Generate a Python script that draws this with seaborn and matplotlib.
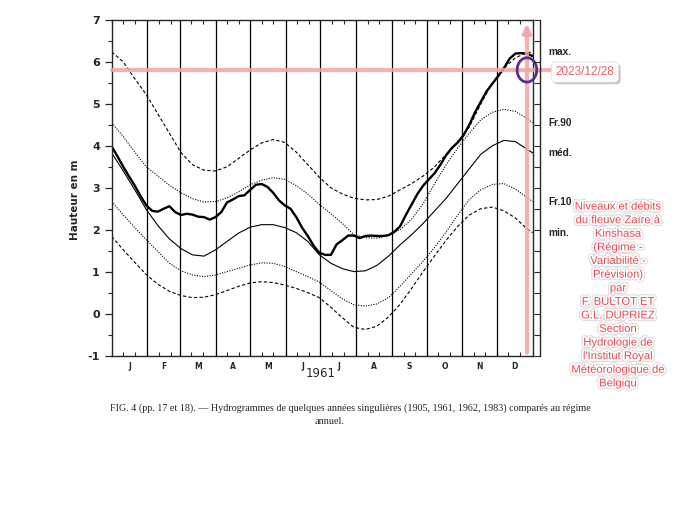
import numpy as np
import pandas as pd
import matplotlib
matplotlib.use('Agg')
import matplotlib.pyplot as plt
import matplotlib.patheffects as pe
from matplotlib.patches import Ellipse
import seaborn as sns

# envelope curves of the annual regime (day of year -> height in m)
days_env = [0, 10, 20, 30, 40, 50, 60, 70, 80, 90, 100, 110, 120, 130, 140, 150, 160, 170, 180,
            190, 200, 210, 220, 230, 240, 250, 260, 270, 280, 290, 300, 310, 320, 330, 340, 350, 360, 365]
lvl_max = [6.24, 6.0, 5.6, 5.22, 4.76, 4.3, 3.84, 3.55, 3.42, 3.40, 3.5, 3.7, 3.9, 4.07, 4.15, 4.08, 3.85, 3.55, 3.25,
           3.0, 2.85, 2.75, 2.71, 2.72, 2.8, 2.95, 3.1, 3.28, 3.5, 3.8, 4.1, 4.45, 5.0, 5.5, 5.85, 6.1, 6.22, 6.24]
lvl_fr90 = [4.55, 4.22, 3.85, 3.5, 3.28, 3.06, 2.88, 2.74, 2.66, 2.67, 2.76, 2.9, 3.07, 3.18, 3.24, 3.2, 3.05, 2.85, 2.6,
            2.38, 2.15, 1.88, 1.81, 1.8, 1.86, 2.0, 2.25, 2.62, 3.1, 3.55, 3.95, 4.3, 4.62, 4.8, 4.87, 4.82, 4.65, 4.55]
lvl_med = [3.83, 3.4, 2.95, 2.48, 2.1, 1.78, 1.55, 1.40, 1.37, 1.52, 1.72, 1.92, 2.06, 2.12, 2.12, 2.05, 1.93, 1.72, 1.4,
           1.2, 1.07, 1.0, 1.02, 1.15, 1.37, 1.64, 1.88, 2.15, 2.45, 2.75, 3.1, 3.45, 3.8, 4.0, 4.13, 4.1, 3.92, 3.83]
lvl_fr10 = [2.67, 2.35, 2.05, 1.76, 1.48, 1.2, 1.02, 0.92, 0.88, 0.92, 1.0, 1.08, 1.16, 1.21, 1.2, 1.12, 1.0, 0.88, 0.75,
            0.55, 0.35, 0.21, 0.18, 0.23, 0.38, 0.65, 0.95, 1.25, 1.58, 1.95, 2.35, 2.72, 2.95, 3.08, 3.1, 2.97, 2.77, 2.67]
lvl_min = [1.84, 1.52, 1.22, 0.93, 0.7, 0.53, 0.43, 0.38, 0.39, 0.45, 0.55, 0.65, 0.73, 0.76, 0.74, 0.68, 0.6, 0.5, 0.38,
           0.15, -0.1, -0.33, -0.38, -0.3, -0.08, 0.22, 0.6, 1.0, 1.38, 1.75, 2.08, 2.35, 2.5, 2.54, 2.45, 2.28, 2.02, 1.93]

# year 1961, every 5 days
days_1961 = list(range(0, 366, 5))
lvl_1961 = [3.98, 3.75, 3.5, 3.27, 3.05, 2.8, 2.58, 2.45, 2.43, 2.5, 2.56, 2.42, 2.35, 2.38, 2.36, 2.31, 2.3, 2.24,
            2.3, 2.42, 2.65, 2.72, 2.8, 2.82, 2.95, 3.07, 3.09, 3.02, 2.88, 2.7, 2.58, 2.5, 2.3, 2.05, 1.85, 1.62,
            1.45, 1.4, 1.4, 1.65, 1.75, 1.86, 1.86, 1.8, 1.85, 1.86, 1.85, 1.85, 1.87, 1.95, 2.08, 2.35, 2.6, 2.85,
            3.05, 3.2, 3.35, 3.55, 3.78, 3.95, 4.08, 4.25, 4.5, 4.8, 5.05, 5.3, 5.48, 5.66, 5.85, 6.08, 6.2, 6.21,
            6.2, 6.14]

month_starts = [0, 31, 59, 90, 120, 151, 181, 212, 243, 273, 304, 334, 365]
month_letters = ['J', 'F', 'M', 'A', 'M', 'J', 'J', 'A', 'S', 'O', 'N', 'D']
right_labels = ['max.', 'Fr.90', 'méd.', 'Fr.10', 'min.']

mark_day = 360
mark_level = 5.81
mark_date = '2023/12/28'
note = ("Niveaux et débits\ndu fleuve Zaïre à\nKinshasa\n(Régime -\nVariabilité -\nPrévision)\npar\n"
        "F. BULTOT ET\nG.L. DUPRIEZ\nSection\nHydrologie de\nl'Institut Royal\nMétéorologique de\nBelgiqu")
caption = ("FIG. 4 (pp. 17 et 18). — Hydrogrammes de quelques années singulières (1905, 1961, 1962, 1983) "
           "comparés au régime")

sns.set_style('ticks')
plt.rcParams['font.family'] = ['DejaVu Sans']
plt.rcParams['axes.unicode_minus'] = False

env = pd.DataFrame({'day': days_env, 'max.': lvl_max, 'Fr.90': lvl_fr90, 'méd.': lvl_med,
                    'Fr.10': lvl_fr10, 'min.': lvl_min})
year = pd.DataFrame({'day': days_1961, 'h': lvl_1961})

fig = plt.figure(figsize=(6.8, 5.13), dpi=100)
ax = fig.add_axes([0.1643, 0.307, 0.6191, 0.654])

styles = {'max.': (0, (3, 2)), 'Fr.90': (0, (1, 1.3)), 'méd.': '-', 'Fr.10': (0, (1, 1.3)), 'min.': (0, (3, 2))}
for name in right_labels:
    sns.lineplot(data=env, x='day', y=name, ax=ax, color='black', lw=0.8, linestyle=styles[name], estimator=None)
sns.lineplot(data=year, x='day', y='h', ax=ax, color='black', lw=1.7, estimator=None)

for m in month_starts[1:-1]:
    ax.axvline(m, color='black', lw=0.9)

ax.set_xlim(0, 365)
ax.set_ylim(-1, 7)
ax.set_xticks(month_starts)
ax.set_xticks([m + d for m in month_starts[:-1] for d in (10, 20)], minor=True)
ax.tick_params(axis='x', which='both', direction='in', top=True, bottom=True, labelbottom=False,
               length=3, width=0.8)
ax.set_yticks(range(-1, 8))
ax.set_yticks(np.arange(-0.5, 7, 1.0), minor=True)
ax.tick_params(axis='y', which='major', direction='out', length=5, width=0.9, labelsize=8)
ax.tick_params(axis='y', which='minor', direction='out', length=3, width=0.8)
for lab in ax.get_yticklabels():
    lab.set_fontweight('bold')
ax.set_xlabel('')
ax.set_ylabel('')
for s in ax.spines.values():
    s.set_linewidth(1.0)

# separate scale on the right
ax2 = ax.twinx()
ax2.set_ylim(-1, 7)
ax2.set_yticks(np.arange(-1, 7.01, 0.5))
ax2.tick_params(axis='y', direction='in', length=4, width=0.8, labelright=False)
for side in ['left', 'top', 'bottom']:
    ax2.spines[side].set_visible(False)
ax2.spines['right'].set_position(('outward', 5.5))
ax2.spines['right'].set_linewidth(1.0)

for name in right_labels:
    ax.annotate(name, xy=(1, env[name].iloc[-1]), xycoords=('axes fraction', 'data'),
                xytext=(11, 0), textcoords='offset points', va='center', fontsize=7.3,
                family='Liberation Sans', fontweight='bold')

for i, letter in enumerate(month_letters):
    ax.text((month_starts[i] + month_starts[i + 1]) / 2, -0.02, letter, transform=ax.get_xaxis_transform(),
            ha='center', va='top', fontsize=5.5, fontweight='bold')
ax.text(181.5, -0.035, '1961', transform=ax.get_xaxis_transform(), ha='center', va='top', fontsize=8.5)

fig.text(75 / 680, 1 - 200 / 513, 'Hauteur en m', rotation=90, ha='center', va='center',
         fontsize=7.5, fontweight='bold')

fig.text(110 / 680, 1 - 408 / 513, caption, family='Liberation Serif', fontsize=7.3, va='center')
fig.text(330 / 680, 1 - 422 / 513, 'annuel.', family='Liberation Serif', fontsize=7.3, va='center', ha='center')

# pink marker lines and circle
pink = '#f2a5a5'
ax.axhline(mark_level, xmin=0, xmax=1.046, color=pink, lw=3, alpha=0.85, clip_on=False, zorder=5)
ax.annotate('', xy=(mark_day, 6.98), xytext=(mark_day, -1),
            arrowprops=dict(arrowstyle='-|>', color=pink, lw=3, mutation_scale=12, alpha=0.85), zorder=5)
ax.add_patch(Ellipse((mark_day, mark_level), width=17, height=0.58, fill=False,
                     edgecolor='#5a2d91', lw=2, zorder=6, clip_on=False))

date_txt = fig.text(585 / 680, 1 - 72 / 513, mark_date, family='Liberation Sans', fontsize=8.5,
                    color='#e8606a', ha='center', va='center',
                    bbox=dict(boxstyle='round,pad=0.35', facecolor='white', edgecolor='#e4e4e4', lw=0.8))
date_txt.get_bbox_patch().set_path_effects([pe.withSimplePatchShadow(offset=(1.5, -1.5),
                                                                     shadow_rgbFace='#888888', alpha=0.5)])

fig.text(618 / 680, 1 - 295 / 513, note, family='Liberation Sans', fontsize=8.1, color='#e8474f',
         ha='center', va='center', linespacing=1.45,
         path_effects=[pe.withStroke(linewidth=4, foreground='#dddddd'),
                       pe.withStroke(linewidth=2.5, foreground='white')])

fig.savefig('out.png', dpi=100)
